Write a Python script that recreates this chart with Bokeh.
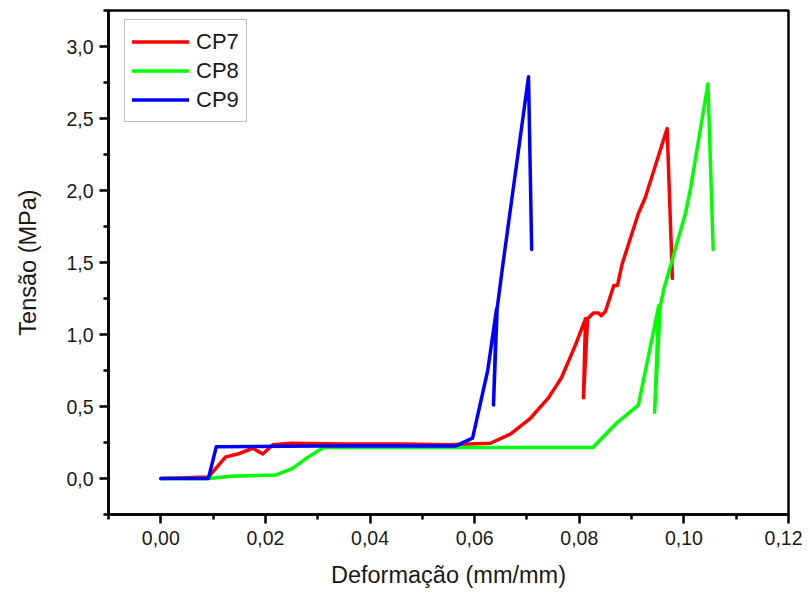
from bokeh.plotting import figure
from bokeh.models import FixedTicker, Range1d
from bokeh.embed import file_html
from bokeh.resources import INLINE

# ---- data ----
cp7_x = [0.0, 0.0091, 0.0124, 0.0147, 0.0176, 0.0195, 0.0214, 0.0248, 0.035, 0.046,
         0.055, 0.063, 0.0669, 0.0707, 0.0741, 0.0766, 0.0793, 0.0812, 0.0808, 0.0816,
         0.0827, 0.0837, 0.0842, 0.085, 0.0866, 0.0873, 0.0882, 0.0913, 0.0926, 0.0968, 0.0978]
cp7_y = [0.0, 0.01, 0.15, 0.17, 0.21, 0.17, 0.235, 0.245, 0.24, 0.24,
         0.235, 0.245, 0.31, 0.42, 0.56, 0.70, 0.93, 1.11, 0.56, 1.11,
         1.15, 1.15, 1.13, 1.16, 1.34, 1.34, 1.49, 1.84, 1.95, 2.43, 1.39]

cp8_x = [0.0, 0.0091, 0.0134, 0.0220, 0.0252, 0.0280, 0.0311, 0.045, 0.060, 0.0826,
         0.0873, 0.0913, 0.0952, 0.0944, 0.0955, 0.0962, 0.1003, 0.1013, 0.1046, 0.1056]
cp8_y = [0.0, 0.0, 0.015, 0.025, 0.07, 0.145, 0.215, 0.215, 0.215, 0.215,
         0.39, 0.51, 1.20, 0.46, 1.20, 1.32, 1.84, 2.02, 2.74, 1.59]

cp9_x = [0.0, 0.0091, 0.0106, 0.030, 0.0563, 0.0596, 0.0625, 0.0642, 0.0636, 0.0643,
         0.0653, 0.0703, 0.0709]
cp9_y = [0.0, 0.0, 0.22, 0.225, 0.225, 0.28, 0.75, 1.18, 0.51, 1.18,
         1.46, 2.79, 1.59]

series_names = ["CP7", "CP8", "CP9"]
series_colors = ["#FF0000", "#00FF00", "#0000FF"]

x_ticks = [0.00, 0.02, 0.04, 0.06, 0.08, 0.10, 0.12]
x_tick_labels = ["0,00", "0,02", "0,04", "0,06", "0,08", "0,10", "0,12"]
x_minor = [-0.01, 0.01, 0.03, 0.05, 0.07, 0.09, 0.11]
y_ticks = [0.0, 0.5, 1.0, 1.5, 2.0, 2.5, 3.0]
y_tick_labels = ["0,0", "0,5", "1,0", "1,5", "2,0", "2,5", "3,0"]
y_minor = [-0.25, 0.25, 0.75, 1.25, 1.75, 2.25, 2.75, 3.25]

FONT = "Liberation Sans"

p = figure(frame_width=680, frame_height=504,
           min_border_left=108, min_border_right=14,
           min_border_top=10, min_border_bottom=72,
           x_range=Range1d(-0.01, 0.12), y_range=Range1d(-0.25, 3.25),
           output_backend="svg", toolbar_location=None)

p.grid.visible = False
p.background_fill_color = "white"
p.border_fill_color = "white"
p.outline_line_color = "black"
p.outline_line_width = 2.5
p.outline_line_alpha = 1.0

for xs, ys, name, col in zip([cp7_x, cp8_x, cp9_x], [cp7_y, cp8_y, cp9_y],
                             series_names, series_colors):
    p.line(xs, ys, line_color=col, line_width=3.5, legend_label=name,
           line_join="round", line_cap="round")

p.xaxis.ticker = FixedTicker(ticks=x_ticks, minor_ticks=x_minor)
p.xaxis.major_label_overrides = {t: l for t, l in zip(x_ticks, x_tick_labels)}
p.yaxis.ticker = FixedTicker(ticks=y_ticks, minor_ticks=y_minor)
p.yaxis.major_label_overrides = {t: l for t, l in zip(y_ticks, y_tick_labels)}

p.xaxis.axis_label = "Deformação (mm/mm)"
p.yaxis.axis_label = "Tensão (MPa)"

for ax in [p.xaxis[0], p.yaxis[0]]:
    ax.axis_line_width = 2.5
    ax.axis_line_color = "black"
    ax.major_tick_line_width = 2.5
    ax.minor_tick_line_width = 2.5
    ax.major_tick_in = 0
    ax.major_tick_out = 9
    ax.minor_tick_in = 0
    ax.minor_tick_out = 5
    ax.major_label_text_font = FONT
    ax.major_label_text_font_size = "19.5px"
    ax.major_label_text_color = "#1a1a1a"
    ax.axis_label_text_font = FONT
    ax.axis_label_text_font_size = "23.5px"
    ax.axis_label_text_font_style = "normal"
    ax.axis_label_text_color = "#1a1a1a"

p.xaxis.major_label_standoff = 7
p.xaxis.axis_label_standoff = 14
p.yaxis.major_label_standoff = 6
p.yaxis.axis_label_standoff = 22

lg = p.legend[0]
lg.location = (16, 392)
lg.label_text_font = FONT
lg.label_text_font_size = "22px"
lg.label_text_color = "#1a1a1a"
lg.glyph_width = 57
lg.glyph_height = 29
lg.label_height = 29
lg.label_standoff = 7
lg.spacing = 0
lg.padding = 7
lg.margin = 0
lg.border_line_color = "#7f7f7f"
lg.border_line_width = 1.5
lg.background_fill_alpha = 1.0

open("out.html", "w").write(file_html(p, INLINE))
